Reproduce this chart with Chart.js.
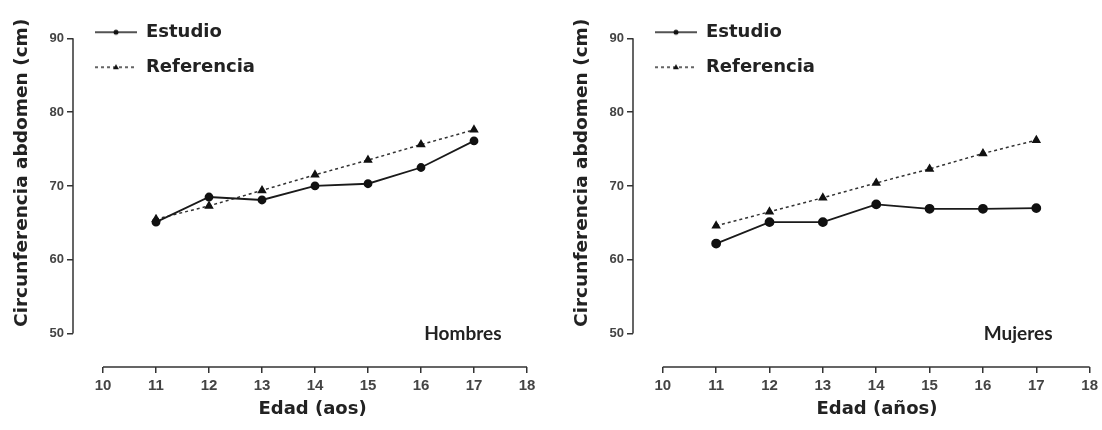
<!DOCTYPE html>
<html>
<head>
<meta charset="utf-8">
<script src="https://cdn.jsdelivr.net/npm/chart.js@4.4.1/dist/chart.umd.min.js"></script>
<style>
    html, body { margin: 0; padding: 0; background: #fff; }
    .fila { display: flex; width: 1102px; height: 430px; }
    .panel { width: 551px; height: 430px; }
</style>
</head>
<body>
<div class="fila">
    <div class="panel"><canvas id="chartHombres" width="551" height="430"></canvas></div>
    <div class="panel"><canvas id="chartMujeres" width="551" height="430"></canvas></div>
</div>
<script>
var edades = [11, 12, 13, 14, 15, 16, 17];
var ticksEdad = [10, 11, 12, 13, 14, 15, 16, 17, 18];
var ticksCirc = [50, 60, 70, 80, 90];

var estudioHombres = [65.1, 68.5, 68.1, 70.0, 70.3, 72.5, 76.1];
var referenciaHombres = [65.5, 67.3, 69.4, 71.5, 73.5, 75.6, 77.6];
var estudioMujeres = [62.2, 65.1, 65.1, 67.5, 66.9, 66.9, 67.0];
var referenciaMujeres = [64.6, 66.5, 68.4, 70.4, 72.3, 74.4, 76.2];

Chart.defaults.font.family = 'DejaVu Sans';
Chart.defaults.animation = false;

// small legend sample: line with the marker in the middle
function muestraLeyenda(ds) {
    var c = document.createElement('canvas');
    c.width = 47; c.height = 12;
    var g = c.getContext('2d');
    g.strokeStyle = ds.borderColor;
    g.lineWidth = 1.5;
    g.setLineDash(ds.borderDash || []);
    g.beginPath(); g.moveTo(5, 6); g.lineTo(47, 6); g.stroke();
    g.setLineDash([]);
    g.fillStyle = '#111';
    g.beginPath();
    if (ds.pointStyle === 'triangle') {
        g.moveTo(26, 3); g.lineTo(29, 8); g.lineTo(23, 8); g.closePath();
    } else {
        g.arc(26, 6, 2.5, 0, Math.PI * 2);
    }
    g.fill();
    return c;
}

var ejes = {
    id: 'ejes',
    afterDraw: function (chart, args, opts) {
        var ctx = chart.ctx, x = chart.scales.x, y = chart.scales.y;
        ctx.save();
        ctx.strokeStyle = '#333';
        ctx.lineWidth = 1.5;
        ctx.beginPath();
        ctx.moveTo(x.left, y.getPixelForValue(ticksCirc[0]));
        ctx.lineTo(x.left, y.getPixelForValue(ticksCirc[ticksCirc.length - 1]));
        ctx.moveTo(x.getPixelForValue(ticksEdad[0]), y.bottom);
        ctx.lineTo(x.getPixelForValue(ticksEdad[ticksEdad.length - 1]), y.bottom);
        ctx.stroke();
        ctx.font = 'bold 19px Lato';
        ctx.fillStyle = '#222';
        ctx.textAlign = 'center';
        ctx.textBaseline = 'middle';
        ctx.fillText(opts.texto, x.getPixelForValue(opts.posX), y.getPixelForValue(opts.posY));
        ctx.restore();
    }
};

function grafico(id, estudio, referencia, p) {
    var ctx = document.getElementById(id);
    return new Chart(ctx, {
        type: 'line',
        data: {
            datasets: [{
                label: 'Estudio',
                data: edades.map(function (e, i) { return { x: e, y: estudio[i] }; }),
                borderColor: '#1a1a1a',
                borderWidth: 1.8,
                pointStyle: 'circle',
                pointRadius: p.radio,
                pointBackgroundColor: '#111',
                pointBorderColor: '#111',
                tension: 0
            }, {
                label: 'Referencia',
                data: edades.map(function (e, i) { return { x: e, y: referencia[i] }; }),
                borderColor: '#333',
                borderWidth: 1.5,
                borderDash: [3, 3],
                pointStyle: 'triangle',
                pointRadius: 4,
                pointBackgroundColor: '#111',
                pointBorderColor: '#111',
                tension: 0
            }]
        },
        options: {
            responsive: false,
            layout: { padding: { left: 0, top: 4, right: p.derecha, bottom: 6 } },
            scales: {
                x: {
                    type: 'linear',
                    min: p.xMin,
                    max: 18,
                    afterBuildTicks: function (s) { s.ticks = ticksEdad.map(function (v) { return { value: v }; }); },
                    afterFit: function (s) { s.height = 57; },
                    border: { display: false },
                    grid: { drawOnChartArea: false, tickLength: 6, color: '#333', lineWidth: 1.5 },
                    ticks: { autoSkip: false, maxRotation: 0, padding: 4, color: '#444', font: { family: 'Liberation Sans', weight: 'bold', size: 15 } },
                    title: { display: true, text: p.tituloX, color: '#222', font: { size: 18, weight: 'bold' }, padding: { top: 4, bottom: 4 } }
                },
                y: {
                    min: 45.48,
                    max: 93.72,
                    afterBuildTicks: function (s) { s.ticks = ticksCirc.map(function (v) { return { value: v }; }); },
                    afterFit: function (s) { s.width = p.ejeY; },
                    border: { display: false },
                    grid: { drawOnChartArea: false, tickLength: 6, color: '#333', lineWidth: 1.5 },
                    ticks: { padding: 3, color: '#444', font: { family: 'Liberation Sans', weight: 'bold', size: 13 } },
                    title: { display: true, text: '     Circunferencia abdomen (cm)', color: '#222', font: { size: 18.5, weight: 'bold' }, padding: { top: p.tituloY, bottom: 0 } }
                }
            },
            plugins: {
                legend: {
                    position: 'chartArea',
                    align: 'start',
                    title: { display: true, text: '', font: { size: 1 }, padding: { top: 5, bottom: 0 } },
                    labels: {
                        usePointStyle: true,
                        pointStyleWidth: 47,
                        padding: 17,
                        color: '#222',
                        font: { size: 18, weight: 'bold' },
                        generateLabels: function (chart) {
                            return chart.data.datasets.map(function (ds, i) {
                                return { text: ds.label, pointStyle: muestraLeyenda(ds), datasetIndex: i, fontColor: '#222', lineWidth: 0, strokeStyle: 'transparent', fillStyle: 'transparent', hidden: false };
                            });
                        }
                    }
                },
                tooltip: { enabled: false },
                ejes: { texto: p.panel, posX: p.panelX, posY: 50 }
            }
        },
        plugins: [ejes]
    });
}

grafico('chartHombres', estudioHombres, referenciaHombres, {
    xMin: 9.434, derecha: 24, ejeY: 73, tituloY: 11, radio: 3.5,
    tituloX: '    Edad (aos)', panel: 'Hombres', panelX: 16.79
});
grafico('chartMujeres', estudioMujeres, referenciaMujeres, {
    xMin: 9.442, derecha: 9, ejeY: 82, tituloY: 20, radio: 4,
    tituloX: '     Edad (años)', panel: 'Mujeres', panelX: 16.66
});
</script>
</body>
</html>
